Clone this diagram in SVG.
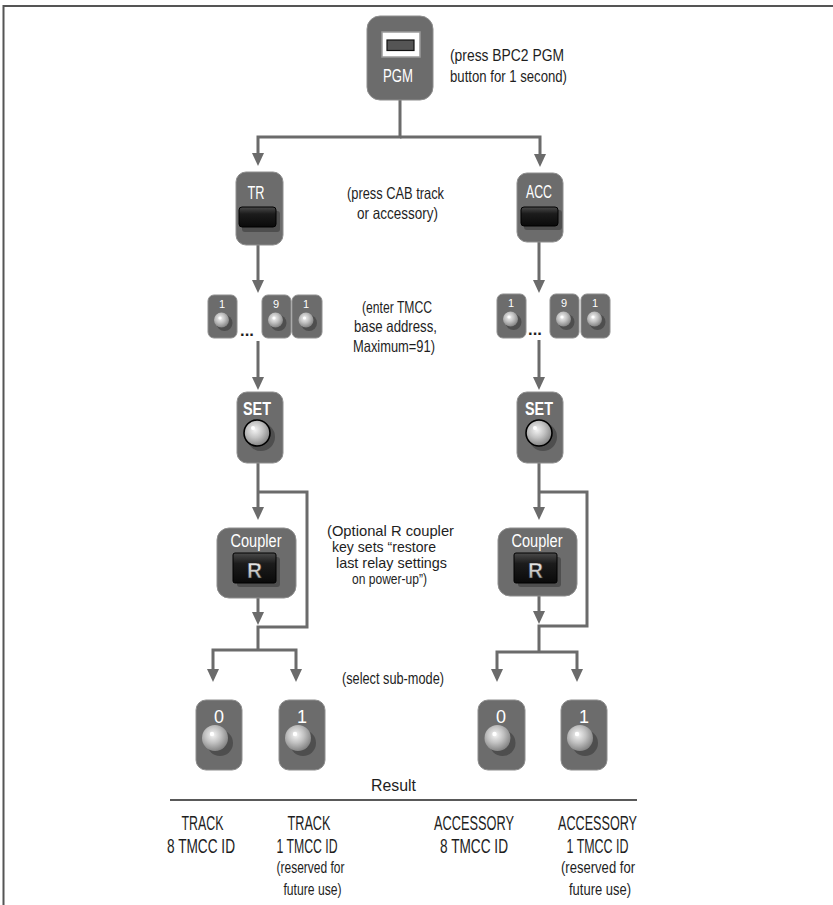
<svg xmlns="http://www.w3.org/2000/svg" width="833" height="905" viewBox="0 0 833 905">
<style>
.frame{fill:none;stroke:#555;stroke-width:2}
.btn{fill:#6c6c6c;stroke:#8e8e8e;stroke-width:1}
.lbl{fill:#fff;font-family:'Liberation Sans',Arial,sans-serif;text-anchor:middle}
.t{fill:#1e1e1e;font-family:'Liberation Sans',Arial,sans-serif;text-anchor:middle;font-size:16.5px}
.b{font-size:20px}
.s{font-size:16.5px}
.n{font-size:15px}
.conn{fill:none;stroke:#6b6b6b;stroke-width:3}
.shadow{fill:#4e4e4e}
.ball{fill:url(#ballG)}
.hl{fill:#fff}
.key{fill:url(#keyG);stroke:#000;stroke-width:1}
</style>
<defs>
<marker id="arr" viewBox="0 0 13 12" refX="0" refY="6" markerWidth="13" markerHeight="12" markerUnits="userSpaceOnUse" orient="auto">
<path d="M0,0 L13,6 L0,12 z" fill="#6b6b6b"/>
</marker>
<radialGradient id="ballG" cx="0.42" cy="0.38" r="0.62">
<stop offset="0" stop-color="#f4f4f4"/>
<stop offset="0.5" stop-color="#c2c2c2"/>
<stop offset="1" stop-color="#858585"/>
</radialGradient>
<linearGradient id="keyG" x1="0" y1="0" x2="0" y2="1">
<stop offset="0" stop-color="#4a4a4a"/>
<stop offset="0.35" stop-color="#1c1c1c"/>
<stop offset="1" stop-color="#0a0a0a"/>
</linearGradient>
<linearGradient id="rG" x1="0" y1="0" x2="0" y2="1">
<stop offset="0" stop-color="#ffffff"/>
<stop offset="1" stop-color="#9a9a9a"/>
</linearGradient>
</defs>

<path class="frame" d="M3.5,905 V6 H833"/>

<g id="connectors">
<path class="conn" d="M400,100 V137 H258 V153" marker-end="url(#arr)"/>
<path class="conn" d="M400,137 H540 V154" marker-end="url(#arr)"/>
<path class="conn" d="M258,245 V280" marker-end="url(#arr)"/>
<path class="conn" d="M258,341 V377" marker-end="url(#arr)"/>
<path class="conn" d="M258,463 V507" marker-end="url(#arr)"/>
<path class="conn" d="M258,492 H307 V627 H258 V650"/>
<path class="conn" d="M258,598 V612" marker-end="url(#arr)"/>
<path class="conn" d="M258,650 H213 V669" marker-end="url(#arr)"/>
<path class="conn" d="M258,650 H296 V669" marker-end="url(#arr)"/>
<path class="conn" d="M539,242 V280" marker-end="url(#arr)"/>
<path class="conn" d="M539,340 V377" marker-end="url(#arr)"/>
<path class="conn" d="M539,463 V507" marker-end="url(#arr)"/>
<path class="conn" d="M539,492 H587 V626 H539 V652"/>
<path class="conn" d="M539,596 V611" marker-end="url(#arr)"/>
<path class="conn" d="M539,652 H497 V669" marker-end="url(#arr)"/>
<path class="conn" d="M539,652 H577 V669" marker-end="url(#arr)"/>
</g>

<g id="pgm">
<rect class="btn" x="367" y="16" width="66" height="84" rx="13"/>
<rect x="382" y="32" width="38" height="25" fill="#fff" stroke="#9a9a9a" stroke-width="1.5"/>
<rect x="387" y="40" width="27" height="10.5" fill="#555" stroke="#111" stroke-width="1.2"/>
<text class="lbl" x="398" y="82" font-size="18" textLength="30" lengthAdjust="spacingAndGlyphs">PGM</text>
</g>
<g id="pgm-note">
<text class="t" x="507" y="61" textLength="114" lengthAdjust="spacingAndGlyphs">(press  BPC2  PGM</text>
<text class="t" x="508.5" y="82" textLength="117" lengthAdjust="spacingAndGlyphs">button for 1 second)</text>
</g>

<g id="tr">
<rect class="btn" x="236" y="172" width="47" height="73" rx="10"/>
<text class="lbl" x="256" y="199" font-size="18" textLength="17" lengthAdjust="spacingAndGlyphs">TR</text>
<rect class="shadow" x="242" y="211" width="38" height="21" rx="3"/>
<rect class="key" x="239" y="207" width="37" height="20" rx="3"/>
</g>
<g id="acc">
<rect class="btn" x="517" y="173" width="46" height="69" rx="10"/>
<text class="lbl" x="539" y="198" font-size="18" textLength="26" lengthAdjust="spacingAndGlyphs">ACC</text>
<rect class="shadow" x="524" y="210" width="38" height="20" rx="3"/>
<rect class="key" x="521" y="207" width="37" height="19" rx="3"/>
</g>
<g id="cab-note">
<text class="t" x="395.5" y="199" textLength="97" lengthAdjust="spacingAndGlyphs">(press CAB track</text>
<text class="t" x="397.5" y="219" textLength="81" lengthAdjust="spacingAndGlyphs">or accessory)</text>
</g>

<g id="keys-left">
<rect class="btn" x="208" y="295" width="29" height="43" rx="6"/>
<text class="lbl" x="222" y="308" font-size="11">1</text>
<circle class="shadow" cx="224.5" cy="323" r="8"/>
<circle class="ball" cx="221.5" cy="320" r="7.5"/>
<circle class="hl" cx="220" cy="318" r="1.6"/>
<text class="t" x="247" y="336" font-size="10" font-weight="bold">...</text>
<rect class="btn" x="262" y="295" width="29" height="43" rx="6"/>
<text class="lbl" x="276" y="308" font-size="11">9</text>
<circle class="shadow" cx="278.5" cy="323" r="8"/>
<circle class="ball" cx="275.5" cy="320" r="7.5"/>
<circle class="hl" cx="274" cy="318" r="1.6"/>
<rect class="btn" x="292" y="295" width="30" height="43" rx="6"/>
<text class="lbl" x="306" y="308" font-size="11">1</text>
<circle class="shadow" cx="309" cy="323" r="8"/>
<circle class="ball" cx="306" cy="320" r="7.5"/>
<circle class="hl" cx="304.5" cy="318" r="1.6"/>
</g>
<g id="keys-right">
<rect class="btn" x="497" y="294" width="29" height="44" rx="6"/>
<text class="lbl" x="511" y="307" font-size="11">1</text>
<circle class="shadow" cx="513.5" cy="322" r="8"/>
<circle class="ball" cx="510.5" cy="319" r="7.5"/>
<circle class="hl" cx="509" cy="317" r="1.6"/>
<text class="t" x="535" y="335" font-size="10" font-weight="bold">...</text>
<rect class="btn" x="550" y="294" width="29" height="44" rx="6"/>
<text class="lbl" x="564" y="307" font-size="11">9</text>
<circle class="shadow" cx="566.5" cy="322" r="8"/>
<circle class="ball" cx="563.5" cy="319" r="7.5"/>
<circle class="hl" cx="562" cy="317" r="1.6"/>
<rect class="btn" x="581" y="294" width="29" height="44" rx="6"/>
<text class="lbl" x="595" y="307" font-size="11">1</text>
<circle class="shadow" cx="597.5" cy="322" r="8"/>
<circle class="ball" cx="594.5" cy="319" r="7.5"/>
<circle class="hl" cx="593" cy="317" r="1.6"/>
</g>
<g id="tmcc-note">
<text class="t" x="397" y="313" textLength="70" lengthAdjust="spacingAndGlyphs">(enter TMCC</text>
<text class="t" x="395.5" y="332" textLength="83" lengthAdjust="spacingAndGlyphs">base address,</text>
<text class="t" x="394" y="352" textLength="82" lengthAdjust="spacingAndGlyphs">Maximum=91)</text>
</g>

<g id="set-left">
<rect class="btn" x="237" y="392" width="46" height="71" rx="10"/>
<text class="lbl" x="257" y="415" font-size="18" font-weight="bold" textLength="28" lengthAdjust="spacingAndGlyphs">SET</text>
<circle class="shadow" cx="261" cy="437" r="14"/>
<circle class="ball" cx="257" cy="433" r="13" stroke="#000" stroke-width="1.6"/>
<circle class="hl" cx="253" cy="428" r="2"/>
</g>
<g id="set-right">
<rect class="btn" x="517" y="392" width="46" height="71" rx="10"/>
<text class="lbl" x="539" y="415" font-size="18" font-weight="bold" textLength="28" lengthAdjust="spacingAndGlyphs">SET</text>
<circle class="shadow" cx="543" cy="437" r="14"/>
<circle class="ball" cx="539" cy="433" r="13" stroke="#000" stroke-width="1.6"/>
<circle class="hl" cx="535" cy="428" r="2"/>
</g>

<g id="coupler-left">
<rect class="btn" x="217" y="528" width="79" height="70" rx="12"/>
<text class="lbl" x="256" y="547" font-size="18" textLength="51" lengthAdjust="spacingAndGlyphs">Coupler</text>
<rect class="shadow" x="237" y="557" width="43" height="30" rx="3"/>
<rect class="key" x="233" y="553" width="43" height="30" rx="2"/>
<text x="254.5" y="578" font-family="'Liberation Sans',Arial,sans-serif" font-weight="bold" font-size="22" text-anchor="middle" fill="url(#rG)" stroke="#222" stroke-width="0.5" textLength="15" lengthAdjust="spacingAndGlyphs">R</text>
</g>
<g id="coupler-right">
<rect class="btn" x="498" y="528" width="79" height="68" rx="12"/>
<text class="lbl" x="537" y="547" font-size="18" textLength="51" lengthAdjust="spacingAndGlyphs">Coupler</text>
<rect class="shadow" x="518" y="557" width="43" height="30" rx="3"/>
<rect class="key" x="514" y="553" width="43" height="30" rx="2"/>
<text x="535.5" y="578" font-family="'Liberation Sans',Arial,sans-serif" font-weight="bold" font-size="22" text-anchor="middle" fill="url(#rG)" stroke="#222" stroke-width="0.5" textLength="15" lengthAdjust="spacingAndGlyphs">R</text>
</g>
<g id="coupler-note">
<text class="t n" x="390.5" y="536" textLength="127" lengthAdjust="spacingAndGlyphs">(Optional R coupler</text>
<text class="t n" x="384" y="552" textLength="104" lengthAdjust="spacingAndGlyphs">key  sets “restore</text>
<text class="t n" x="391.5" y="568" textLength="111" lengthAdjust="spacingAndGlyphs">last relay settings</text>
<text class="t n" x="389.5" y="584" textLength="75" lengthAdjust="spacingAndGlyphs">on  power-up”)</text>
</g>

<g id="sub-left-0">
<rect class="btn" x="196" y="700" width="46" height="70" rx="10"/>
<text class="lbl" x="219" y="723" font-size="18">0</text>
<circle class="shadow" cx="220" cy="743" r="13"/>
<circle class="ball" cx="215" cy="738" r="13"/>
<circle class="hl" cx="212" cy="734" r="2.2"/>
</g>
<g id="sub-left-1">
<rect class="btn" x="279" y="700" width="46" height="70" rx="10"/>
<text class="lbl" x="302" y="723" font-size="18">1</text>
<circle class="shadow" cx="303" cy="743" r="13"/>
<circle class="ball" cx="298" cy="738" r="13"/>
<circle class="hl" cx="295" cy="734" r="2.2"/>
</g>
<g id="sub-right-0">
<rect class="btn" x="478" y="700" width="47" height="70" rx="10"/>
<text class="lbl" x="501" y="723" font-size="18">0</text>
<circle class="shadow" cx="502.5" cy="743" r="13"/>
<circle class="ball" cx="497.5" cy="738" r="13"/>
<circle class="hl" cx="494.5" cy="734" r="2.2"/>
</g>
<g id="sub-right-1">
<rect class="btn" x="561" y="700" width="46" height="70" rx="10"/>
<text class="lbl" x="584" y="723" font-size="18">1</text>
<circle class="shadow" cx="585" cy="743" r="13"/>
<circle class="ball" cx="580" cy="738" r="13"/>
<circle class="hl" cx="577" cy="734" r="2.2"/>
</g>
<g id="submode-note">
<text class="t" x="393" y="684" textLength="102" lengthAdjust="spacingAndGlyphs">(select sub-mode)</text>
</g>

<g id="result">
<text class="t" x="393.5" y="791" font-size="18" textLength="45" lengthAdjust="spacingAndGlyphs">Result</text>
<line x1="170" y1="800" x2="637" y2="800" stroke="#222" stroke-width="1.5"/>
<text class="t b" x="202.5" y="830" textLength="42" lengthAdjust="spacingAndGlyphs">TRACK</text>
<text class="t b" x="201" y="853" textLength="68" lengthAdjust="spacingAndGlyphs">8 TMCC ID</text>
<text class="t b" x="309" y="830" textLength="43" lengthAdjust="spacingAndGlyphs">TRACK</text>
<text class="t b" x="307" y="853" textLength="61" lengthAdjust="spacingAndGlyphs">1 TMCC ID</text>
<text class="t s" x="310.5" y="873" textLength="68" lengthAdjust="spacingAndGlyphs">(reserved for</text>
<text class="t s" x="312.5" y="895" textLength="58" lengthAdjust="spacingAndGlyphs">future use)</text>
<text class="t b" x="474" y="830" textLength="80" lengthAdjust="spacingAndGlyphs">ACCESSORY</text>
<text class="t b" x="474" y="853" textLength="68" lengthAdjust="spacingAndGlyphs">8 TMCC ID</text>
<text class="t b" x="597.5" y="830" textLength="79" lengthAdjust="spacingAndGlyphs">ACCESSORY</text>
<text class="t b" x="597.5" y="853" textLength="62" lengthAdjust="spacingAndGlyphs">1 TMCC ID</text>
<text class="t s" x="598" y="873" textLength="74" lengthAdjust="spacingAndGlyphs">(reserved for</text>
<text class="t s" x="600" y="895" textLength="62" lengthAdjust="spacingAndGlyphs">future use)</text>
</g>
</svg>
